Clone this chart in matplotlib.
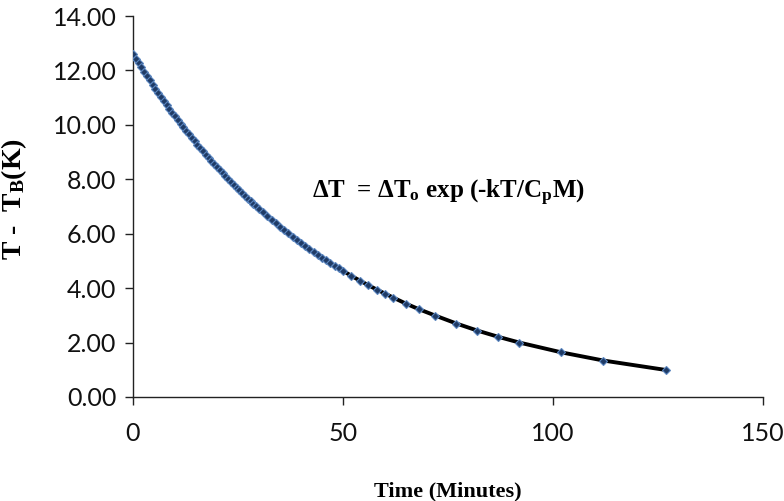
import matplotlib
matplotlib.use("Agg")
import matplotlib.pyplot as plt

# Time (minutes)
time_min = [0.00, 0.67, 1.33, 2.00, 2.67, 3.33, 4.00, 4.67, 5.33, 6.00,
            6.67, 7.33, 8.00, 8.67, 9.33, 10.00, 10.67, 11.33, 12.00, 12.67,
            13.33, 14.00, 14.67, 15.33, 16.00, 16.67, 17.33, 18.00, 18.67, 19.33,
            20.00, 20.67, 21.33, 22.00, 22.67, 23.33, 24.00, 24.67, 25.33, 26.00,
            26.67, 27.33, 28.00, 28.67, 29.33, 30.00,
            31, 32, 33, 34, 35, 36, 37, 38, 39, 40,
            41, 42, 43, 44, 45, 46, 47, 48, 49, 50,
            52, 54, 56, 58, 60, 62, 65, 68, 72, 77,
            82, 87, 92, 102, 112, 127]

# T - T_B (K)
delta_t = [12.60, 12.43, 12.27, 12.11, 11.95, 11.79, 11.63, 11.48, 11.33, 11.18,
           11.03, 10.88, 10.74, 10.60, 10.45, 10.32, 10.18, 10.04, 9.91, 9.78,
           9.65, 9.52, 9.40, 9.27, 9.15, 9.03, 8.91, 8.79, 8.67, 8.56,
           8.45, 8.33, 8.22, 8.12, 8.01, 7.90, 7.80, 7.69, 7.59, 7.49,
           7.39, 7.29, 7.20, 7.10, 7.01, 6.92,
           6.78, 6.64, 6.51, 6.38, 6.26, 6.13, 6.01, 5.89, 5.78, 5.66,
           5.55, 5.44, 5.33, 5.23, 5.12, 5.02, 4.92, 4.82, 4.73, 4.64,
           4.45, 4.28, 4.11, 3.95, 3.80, 3.65, 3.43, 3.23, 2.99, 2.70,
           2.44, 2.21, 2.00, 1.64, 1.34, 0.99]

x_ticks = [0, 50, 100, 150]
y_ticks = [0, 2, 4, 6, 8, 10, 12, 14]
y_tick_labels = ["0.00", "2.00", "4.00", "6.00", "8.00", "10.00", "12.00", "14.00"]

plt.rcParams["mathtext.fontset"] = "custom"
plt.rcParams["mathtext.rm"] = "Liberation Serif:bold"
plt.rcParams["mathtext.it"] = "Liberation Serif:bold"
plt.rcParams["mathtext.bf"] = "Liberation Serif:bold"

fig = plt.figure(figsize=(7.84, 5.01), dpi=100)
ax = fig.add_axes([133/784, 1 - 397/501, (763-133)/784, (397-16)/501])

ax.plot(time_min, delta_t, color="black", lw=2.8, zorder=2)
ax.plot(time_min, delta_t, linestyle="none", marker="D", markersize=4.4,
        markerfacecolor="#1f3b66", markeredgecolor="#5b86c0", markeredgewidth=0.8,
        zorder=3)

ax.set_xlim(0, 150)
ax.set_ylim(0, 14)
ax.set_xticks(x_ticks)
ax.set_xticklabels([str(v) for v in x_ticks])
ax.set_yticks(y_ticks)
ax.set_yticklabels(y_tick_labels)

for s in ["top", "right"]:
    ax.spines[s].set_visible(False)
for s in ["left", "bottom"]:
    ax.spines[s].set_color("#222222")
    ax.spines[s].set_linewidth(1.0)

ax.tick_params(axis="both", direction="out", length=6, width=1.0, color="#222222",
               labelsize=18, labelcolor="#111111")
ax.tick_params(axis="x", pad=12)
ax.tick_params(axis="y", pad=6)
for lab in ax.get_xticklabels() + ax.get_yticklabels():
    lab.set_family(["Lato", "DejaVu Sans"])

ax.set_xlabel("Time (Minutes)", family="Liberation Serif", fontweight="bold",
              fontsize=16, labelpad=26)
ax.set_ylabel(r"T -  T$_\mathregular{B}$(K)", family="Liberation Serif",
              fontweight="bold", fontsize=20)
ax.yaxis.set_label_coords(-0.165, 0.52)

ax.text(0.5, 0.535, r"ΔT  = ΔT$_\mathregular{o}$ exp (-kT/C$_\mathregular{p}$M)",
        transform=ax.transAxes, fontsize=18, ha="center", va="center",
        family="Liberation Serif", fontweight="bold")

fig.savefig("out.png", dpi=100)
